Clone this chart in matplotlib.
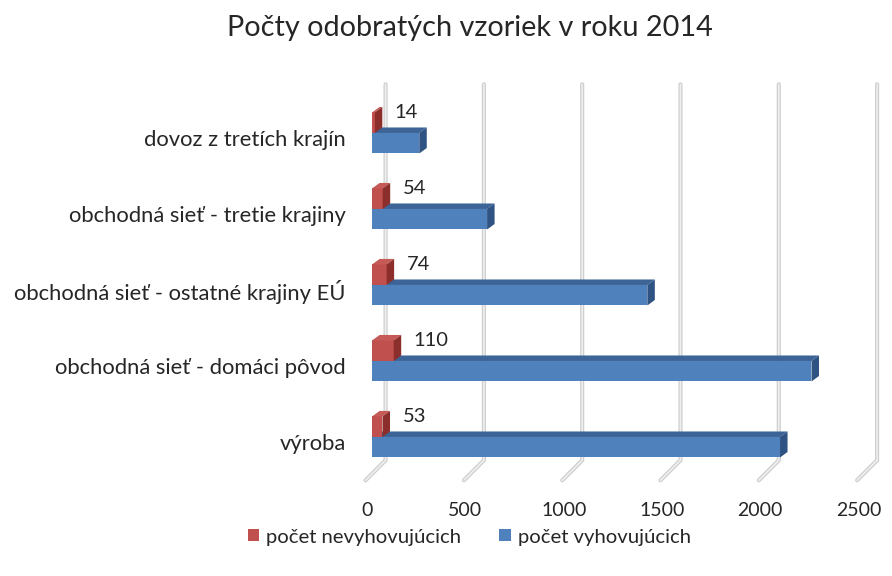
import matplotlib
matplotlib.use('Agg')
import matplotlib.pyplot as plt
import matplotlib.transforms as mtransforms
from matplotlib.patches import Polygon, Patch
import numpy as np

plt.rcParams['font.family'] = ['Lato', 'DejaVu Sans']

# kategorie zhora nadol
kategorie = ['dovoz z tretích krajín',
             'obchodná sieť - tretie krajiny',
             'obchodná sieť - ostatné krajiny EÚ',
             'obchodná sieť - domáci pôvod',
             'výroba']
nevyhovujuce = [14, 54, 74, 110, 53]
vyhovujuce = [240, 585, 1400, 2235, 2075]
xticks = [0, 500, 1000, 1500, 2000, 2500]

red = ('#C0504D', '#C55A57', '#8C2E2B')
blue = ('#4F81BD', '#3C6497', '#2F5383')
txt = '#262626'

fig = plt.figure(figsize=(8.92, 5.76), dpi=100)
ax = fig.add_axes([0.4061, 0.1622, 0.5841, 0.6993])
ax.set_xlim(-50, 2600)
ax.set_ylim(-0.6, 4.7)
ax.patch.set_visible(False)
for s in ax.spines.values():
    s.set_visible(False)


def px(dx, dy):
    # posun v pixeloch -> posun v datach
    p0 = ax.transData.transform((0, 0))
    q = ax.transData.inverted().transform(p0 + np.array([dx, dy]))
    return q[0], q[1]


def bar3d(x0, x1, y0, y1, cols, z):
    dx, dy = px(7.5, 5.5)
    ax.add_patch(Polygon([(x0, y0), (x1, y0), (x1, y1), (x0, y1)],
                         fc=cols[0], ec='none', zorder=z))
    ax.add_patch(Polygon([(x0, y1), (x1, y1), (x1 + dx, y1 + dy), (x0 + dx, y1 + dy)],
                         fc=cols[1], ec='none', zorder=z))
    ax.add_patch(Polygon([(x1, y0), (x1 + dx, y0 + dy), (x1 + dx, y1 + dy), (x1, y1)],
                         fc=cols[2], ec='none', zorder=z))


# mriezka (zadna stena + podlaha)
floor_y = -0.57
top_y = 4.64
fdx, _ = px(-6.5, 0)
wx, wy = px(20, 20)
for t in xticks:
    xf = t + fdx
    xs = [xf, xf + wx, xf + wx]
    ys = [floor_y, floor_y + wy, top_y]
    ax.plot(xs, ys, color='#cfcfcf', lw=3.0, zorder=1, solid_capstyle='round')
    ax.plot(xs, ys, color='#efefef', lw=1.2, zorder=1.1, solid_capstyle='round')

h = 0.27
n = len(kategorie)
for i in range(n):
    yc = n - 1 - i
    bar3d(0, vyhovujuce[i], yc - h, yc, blue, 3 + i * 0.1)
    bar3d(0, nevyhovujuce[i], yc, yc + h, red, 3.05 + i * 0.1)
    ax.annotate(str(nevyhovujuce[i]), (nevyhovujuce[i], yc + h),
                xytext=(20, 0), textcoords='offset pixels',
                ha='left', va='center', fontsize=14.5, color=txt, zorder=5)

ax.set_yticks([n - 1 - i - 0.07 for i in range(n)])
ax.set_yticklabels(kategorie, fontsize=15.8, color=txt)
ax.set_xticks(xticks)
ax.set_xticklabels([str(t) for t in xticks], fontsize=14, color=txt)
ax.tick_params(axis='both', length=0)
ax.tick_params(axis='y', pad=12)
ax.tick_params(axis='x', pad=14)
shift = mtransforms.ScaledTranslation(-0.05, 0, fig.dpi_scale_trans)
for lab in ax.get_xticklabels():
    lab.set_transform(lab.get_transform() + shift)

fig.text(0.527, 1 - 28 / 576, 'Počty odobratých vzoriek v roku 2014',
         ha='center', va='center', fontsize=20.8, color=txt)

handles = [Patch(facecolor=red[0], label='počet nevyhovujúcich'),
           Patch(facecolor=blue[0], label='počet vyhovujúcich')]
fig.legend(handles=handles, loc='center', bbox_to_anchor=(0.526, 1 - 537 / 576),
           ncol=2, frameon=False, fontsize=14.6, handlelength=0.55, handleheight=0.55,
           handletextpad=0.35, columnspacing=1.9, labelcolor=txt)

fig.savefig('out.png', dpi=100)
